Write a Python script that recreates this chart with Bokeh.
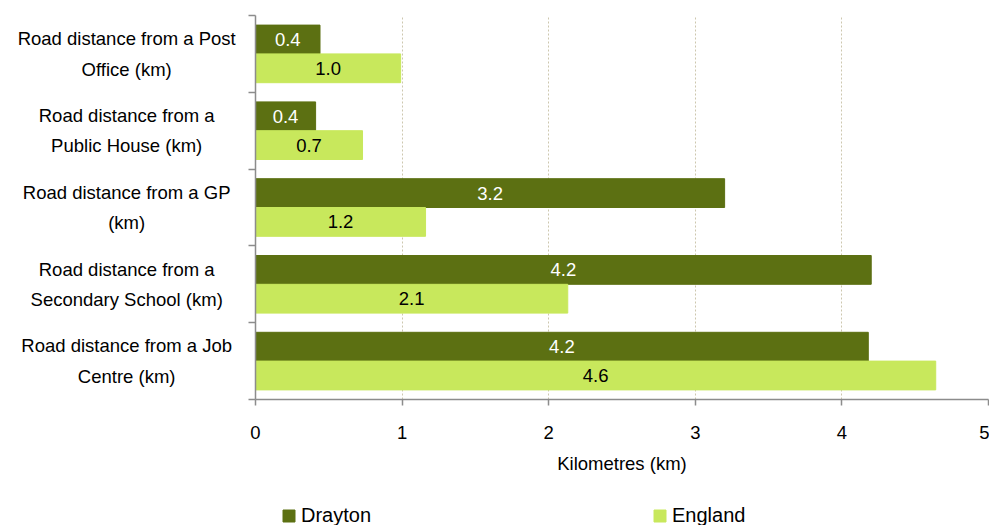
from bokeh.plotting import figure
from bokeh.layouts import row, column
from bokeh.models import (ColumnDataSource, Range1d, FixedTicker, Legend, LegendItem)
from bokeh.core.properties import value
from bokeh.embed import file_html
from bokeh.resources import INLINE

categories = [
    "Road distance from a Post\nOffice (km)",
    "Road distance from a\nPublic House (km)",
    "Road distance from a GP\n(km)",
    "Road distance from a\nSecondary School (km)",
    "Road distance from a Job\nCentre (km)",
]
drayton = [0.44, 0.41, 3.20, 4.20, 4.18]
england = [0.99, 0.73, 1.16, 2.13, 4.64]
series = ["Drayton", "England"]
x_ticks = [0, 1, 2, 3, 4, 5]
x_title = "Kilometres (km)"

DARK = "#5C7012"
LIGHT = "#C8E85C"
FONT = "Liberation Sans"
FS = "18.5px"

n = len(categories)
centers = [n - i - 0.5 for i in range(n)]
off = 0.1875
bh = 0.375

src = ColumnDataSource(dict(
    yc=centers,
    yd=[c + off for c in centers],
    ye=[c - off for c in centers],
    cat=categories,
    drayton=drayton,
    england=england,
    d_mid=[v / 2 for v in drayton],
    e_mid=[v / 2 for v in england],
    d_lab=[f"{v:.1f}" for v in drayton],
    e_lab=[f"{v:.1f}" for v in england],
))

TOP, BOTTOM, MAIN_H = 15, 106, 505
LABEL_W = 245

# ---- main chart ----
p = figure(width=989 - LABEL_W, height=MAIN_H, output_backend="svg", toolbar_location=None,
           x_range=Range1d(0, 5), y_range=Range1d(0, n),
           min_border_left=10, min_border_right=1, min_border_top=TOP, min_border_bottom=BOTTOM)
p.outline_line_color = None
p.background_fill_color = "white"
p.border_fill_color = "white"

r1 = p.hbar(y="yd", left=0, right="drayton", height=bh,
            source=src, fill_color=DARK, line_color=DARK)
r2 = p.hbar(y="ye", left=0, right="england", height=bh,
            source=src, fill_color=LIGHT, line_color=LIGHT)

p.text(x="d_mid", y="yd", text="d_lab", source=src,
       text_align="center", text_baseline="middle", text_color="white",
       text_font=value(FONT), text_font_size=FS)
p.text(x="e_mid", y="ye", text="e_lab", source=src,
       text_align="center", text_baseline="middle", text_color="black",
       text_font=value(FONT), text_font_size=FS)

xt = FixedTicker(ticks=x_ticks)
xa = p.xaxis[0]
xa.ticker = xt
xa.axis_line_color = "#8c8c8c"
xa.axis_line_width = 1.5
xa.major_tick_line_color = "#8c8c8c"
xa.major_tick_line_width = 1.5
xa.major_tick_out = 6
xa.major_tick_in = 0
xa.minor_tick_line_color = None
xa.major_label_text_font = FONT
xa.major_label_text_font_size = FS
xa.major_label_text_color = "black"
xa.major_label_standoff = 20
xa.axis_label = x_title
xa.axis_label_text_font = FONT
xa.axis_label_text_font_size = FS
xa.axis_label_text_font_style = "normal"
xa.axis_label_text_color = "black"
xa.axis_label_standoff = 11

p.xgrid.ticker = xt
p.xgrid.grid_line_color = "#cdc7ae"
p.xgrid.grid_line_dash = "2 2"
p.xgrid.grid_line_width = 1

ya = p.yaxis[0]
ya.ticker = FixedTicker(ticks=[], minor_ticks=list(range(n + 1)))
ya.axis_line_color = "#8c8c8c"
ya.axis_line_width = 1.5
ya.major_tick_line_color = None
ya.major_tick_out = 0
ya.major_tick_in = 0
ya.minor_tick_line_color = "#8c8c8c"
ya.minor_tick_line_width = 1.5
ya.minor_tick_out = 7
ya.minor_tick_in = 0
ya.major_label_text_font_size = "0px"
ya.major_label_standoff = 0
p.ygrid.visible = False

# ---- category labels (left) ----
lab = figure(width=LABEL_W, height=MAIN_H, output_backend="svg", toolbar_location=None,
             x_range=Range1d(0, 1), y_range=p.y_range,
             x_axis_location=None, y_axis_location=None,
             min_border_left=0, min_border_right=0, min_border_top=TOP, min_border_bottom=BOTTOM)
lab.outline_line_color = None
lab.grid.visible = False
label_x = 0.515
lab.text(x=label_x, y="yc", text="cat", source=src, text_align="center", text_baseline="middle",
         text_color="black", text_font=value(FONT), text_font_size=FS, text_line_height=1.45)

# ---- legend strip (series renderers kept hidden, used only for the key) ----
leg = figure(width=989, height=525 - MAIN_H, output_backend="svg", toolbar_location=None,
             x_range=Range1d(0, 5), y_range=Range1d(0, n),
             x_axis_location=None, y_axis_location=None,
             min_border=0)
leg.outline_line_color = None
leg.grid.visible = False
s1 = leg.hbar(y="yd", left=0, right="drayton", height=bh, source=src,
              fill_color=DARK, line_color=DARK, visible=False)
s2 = leg.hbar(y="ye", left=0, right="england", height=bh, source=src,
              fill_color=LIGHT, line_color=LIGHT, visible=False)
legend = Legend(items=[LegendItem(label=series[0], renderers=[s1]),
                       LegendItem(label=series[1], renderers=[s2])],
                location=(281, -2), orientation="horizontal",
                glyph_width=15, glyph_height=15, label_standoff=5, label_width=339, spacing=12,
                label_height=20, inactive_fill_alpha=0,
                label_text_font=FONT, label_text_font_size="20px", label_text_color="black",
                padding=0, margin=0, border_line_color=None, background_fill_alpha=0)
leg.add_layout(legend)

layout = column(row(lab, p), leg)
open("out.html", "w").write(file_html(layout, INLINE))
